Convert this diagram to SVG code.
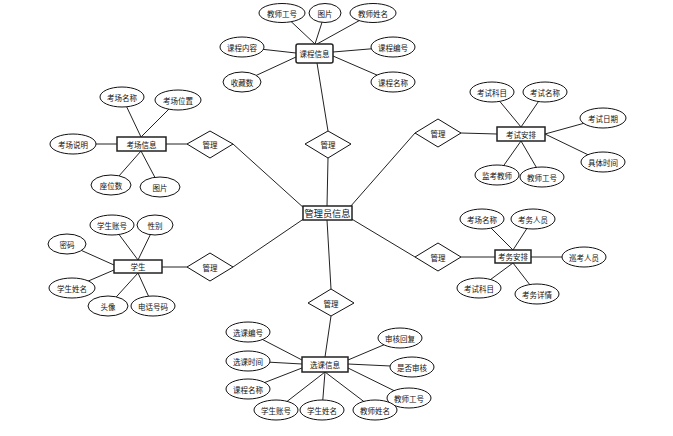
<svg xmlns="http://www.w3.org/2000/svg" width="673" height="436" viewBox="0 0 673 436">
<style>
.bg{fill:#fff}
.ln line{stroke:#222;stroke-width:1}
.at ellipse{fill:#fff;stroke:#111;stroke-width:1}
.en rect{fill:#fff;stroke:#222;stroke-width:1.5}
.rl polygon{fill:#fff;stroke:#111;stroke-width:1}
text{font-family:"Noto Sans CJK SC","Noto Sans",sans-serif;font-size:7.5px;fill:#111;text-anchor:middle;dominant-baseline:central}
.big{font-size:9.2px}
</style>
<rect class="bg" width="673" height="436"/>
<g id="connectors" class="ln">
<line x1="328" y1="158" x2="327" y2="206"/>
<line x1="233" y1="144" x2="305" y2="209"/>
<line x1="233" y1="267" x2="305" y2="218"/>
<line x1="415" y1="133" x2="350" y2="207"/>
<line x1="415" y1="257" x2="350" y2="218"/>
<line x1="331" y1="289" x2="327" y2="220"/>
<line x1="317" y1="63" x2="328" y2="131"/>
<line x1="166" y1="144" x2="187" y2="144"/>
<line x1="162" y1="267" x2="187" y2="267"/>
<line x1="461" y1="133" x2="497" y2="134"/>
<line x1="461" y1="257" x2="495" y2="257"/>
<line x1="331" y1="316" x2="325" y2="357"/>
<line x1="282" y1="13" x2="315" y2="44"/>
<line x1="325" y1="13" x2="315" y2="44"/>
<line x1="373" y1="13" x2="317" y2="44"/>
<line x1="242" y1="47" x2="296" y2="53"/>
<line x1="242" y1="82" x2="296" y2="57"/>
<line x1="393" y1="47" x2="333" y2="52"/>
<line x1="393" y1="82" x2="333" y2="56"/>
<line x1="122" y1="97" x2="141" y2="137"/>
<line x1="178" y1="100" x2="141" y2="137"/>
<line x1="73" y1="144" x2="117" y2="144"/>
<line x1="111" y1="185" x2="141" y2="151"/>
<line x1="160" y1="187" x2="141" y2="151"/>
<line x1="112" y1="225" x2="138" y2="260"/>
<line x1="155" y1="225" x2="138" y2="260"/>
<line x1="67" y1="244" x2="114" y2="265"/>
<line x1="72" y1="288" x2="114" y2="270"/>
<line x1="108" y1="306" x2="138" y2="273"/>
<line x1="153" y1="306" x2="138" y2="273"/>
<line x1="492" y1="92" x2="521" y2="127"/>
<line x1="545" y1="92" x2="521" y2="127"/>
<line x1="603" y1="118" x2="545" y2="134"/>
<line x1="603" y1="162" x2="545" y2="134"/>
<line x1="497" y1="175" x2="521" y2="141"/>
<line x1="542" y1="177" x2="521" y2="141"/>
<line x1="482" y1="219" x2="513" y2="250"/>
<line x1="533" y1="219" x2="513" y2="250"/>
<line x1="584" y1="257" x2="531" y2="257"/>
<line x1="479" y1="288" x2="513" y2="263"/>
<line x1="537" y1="294" x2="513" y2="263"/>
<line x1="248" y1="332" x2="302" y2="360"/>
<line x1="248" y1="361" x2="302" y2="364"/>
<line x1="248" y1="389" x2="302" y2="368"/>
<line x1="276" y1="410" x2="325" y2="372"/>
<line x1="322" y1="410" x2="325" y2="372"/>
<line x1="375" y1="410" x2="325" y2="372"/>
<line x1="409" y1="398" x2="348" y2="368"/>
<line x1="400" y1="338" x2="348" y2="360"/>
<line x1="412" y1="367" x2="348" y2="364"/>
</g>

<g id="admin" class="en"><rect x="303" y="206" width="49" height="14"/><text class="big" x="327.5" y="213">管理员信息</text></g>

<g id="rel-top" class="rl"><polygon points="328,131 351,144 328,158 305,144"/><text x="328" y="144.5">管理</text></g>
<g id="rel-lt" class="rl"><polygon points="210,131 233,144 210,158 187,144"/><text x="210" y="144.5">管理</text></g>
<g id="rel-lb" class="rl"><polygon points="210,253 233,267 210,281 187,267"/><text x="210" y="267.5">管理</text></g>
<g id="rel-rt" class="rl"><polygon points="438,119 461,133 438,147 415,133"/><text x="438" y="133.5">管理</text></g>
<g id="rel-rb" class="rl"><polygon points="438,243 461,257 438,271 415,257"/><text x="438" y="257.5">管理</text></g>
<g id="rel-bot" class="rl"><polygon points="331,289 354,303 331,316 308,303"/><text x="331" y="303">管理</text></g>

<g id="course" class="en"><rect x="296" y="44" width="37" height="19" rx="2"/><text x="314.5" y="53.5">课程信息</text></g>
<g id="course-attrs" class="at">
<ellipse cx="282" cy="13" rx="23" ry="9.5"/><text x="282" y="13">教师工号</text>
<ellipse cx="325" cy="13" rx="16" ry="9.5"/><text x="325" y="13">图片</text>
<ellipse cx="373" cy="13" rx="23" ry="9.5"/><text x="373" y="13">教师姓名</text>
<ellipse cx="242" cy="47" rx="22" ry="10"/><text x="242" y="47">课程内容</text>
<ellipse cx="242" cy="82" rx="19" ry="10"/><text x="242" y="82">收藏数</text>
<ellipse cx="393" cy="47" rx="22" ry="10"/><text x="393" y="47">课程编号</text>
<ellipse cx="393" cy="82" rx="22" ry="10"/><text x="393" y="82">课程名称</text>
</g>

<g id="room" class="en"><rect x="117" y="137" width="49" height="14"/><text x="141.5" y="144">考场信息</text></g>
<g id="room-attrs" class="at">
<ellipse cx="122" cy="97" rx="22" ry="10"/><text x="122" y="97">考场名称</text>
<ellipse cx="178" cy="100" rx="23" ry="10"/><text x="178" y="100">考场位置</text>
<ellipse cx="73" cy="144" rx="23" ry="10"/><text x="73" y="144">考场说明</text>
<ellipse cx="111" cy="185" rx="20" ry="10"/><text x="111" y="185">座位数</text>
<ellipse cx="160" cy="187" rx="20" ry="10"/><text x="160" y="187">图片</text>
</g>

<g id="student" class="en"><rect x="114" y="260" width="48" height="13"/><text x="138" y="266.5">学生</text></g>
<g id="student-attrs" class="at">
<ellipse cx="112" cy="225" rx="22" ry="10"/><text x="112" y="225">学生账号</text>
<ellipse cx="155" cy="225" rx="18" ry="10"/><text x="155" y="225">性别</text>
<ellipse cx="67" cy="244" rx="19" ry="10"/><text x="67" y="244">密码</text>
<ellipse cx="72" cy="288" rx="23" ry="10"/><text x="72" y="288">学生姓名</text>
<ellipse cx="108" cy="306" rx="20" ry="10"/><text x="108" y="306">头像</text>
<ellipse cx="153" cy="306" rx="22" ry="10"/><text x="153" y="306">电话号码</text>
</g>

<g id="exam" class="en"><rect x="497" y="127" width="48" height="14"/><text x="521" y="134">考试安排</text></g>
<g id="exam-attrs" class="at">
<ellipse cx="492" cy="92" rx="22" ry="10"/><text x="492" y="92">考试科目</text>
<ellipse cx="545" cy="92" rx="22" ry="10"/><text x="545" y="92">考试名称</text>
<ellipse cx="603" cy="118" rx="23" ry="10"/><text x="603" y="118">考试日期</text>
<ellipse cx="603" cy="162" rx="22" ry="10"/><text x="603" y="162">具体时间</text>
<ellipse cx="497" cy="175" rx="22" ry="10"/><text x="497" y="175">监考教师</text>
<ellipse cx="542" cy="177" rx="22" ry="10"/><text x="542" y="177">教师工号</text>
</g>

<g id="affairs" class="en"><rect x="495" y="250" width="36" height="13"/><text x="513" y="256.5">考务安排</text></g>
<g id="affairs-attrs" class="at">
<ellipse cx="482" cy="219" rx="22" ry="10"/><text x="482" y="219">考场名称</text>
<ellipse cx="533" cy="219" rx="22" ry="10"/><text x="533" y="219">考务人员</text>
<ellipse cx="584" cy="257" rx="22" ry="10"/><text x="584" y="257">巡考人员</text>
<ellipse cx="479" cy="288" rx="22" ry="10"/><text x="479" y="288">考试科目</text>
<ellipse cx="537" cy="294" rx="22" ry="10"/><text x="537" y="294">考务详情</text>
</g>

<g id="selection" class="en"><rect x="302" y="357" width="46" height="15"/><text x="325" y="364.5">选课信息</text></g>
<g id="selection-attrs" class="at">
<ellipse cx="248" cy="332" rx="22" ry="10"/><text x="248" y="332">选课编号</text>
<ellipse cx="248" cy="361" rx="22" ry="10"/><text x="248" y="361">选课时间</text>
<ellipse cx="248" cy="389" rx="22" ry="10"/><text x="248" y="389">课程名称</text>
<ellipse cx="400" cy="338" rx="22" ry="10"/><text x="400" y="338">审核回复</text>
<ellipse cx="412" cy="367" rx="22" ry="10"/><text x="412" y="367">是否审核</text>
<ellipse cx="409" cy="398" rx="22" ry="10"/><text x="409" y="398">教师工号</text>
<ellipse cx="276" cy="410" rx="22" ry="10"/><text x="276" y="410">学生账号</text>
<ellipse cx="322" cy="410" rx="22" ry="10"/><text x="322" y="410">学生姓名</text>
<ellipse cx="375" cy="410" rx="22" ry="10"/><text x="375" y="410">教师姓名</text>
</g>
</svg>
